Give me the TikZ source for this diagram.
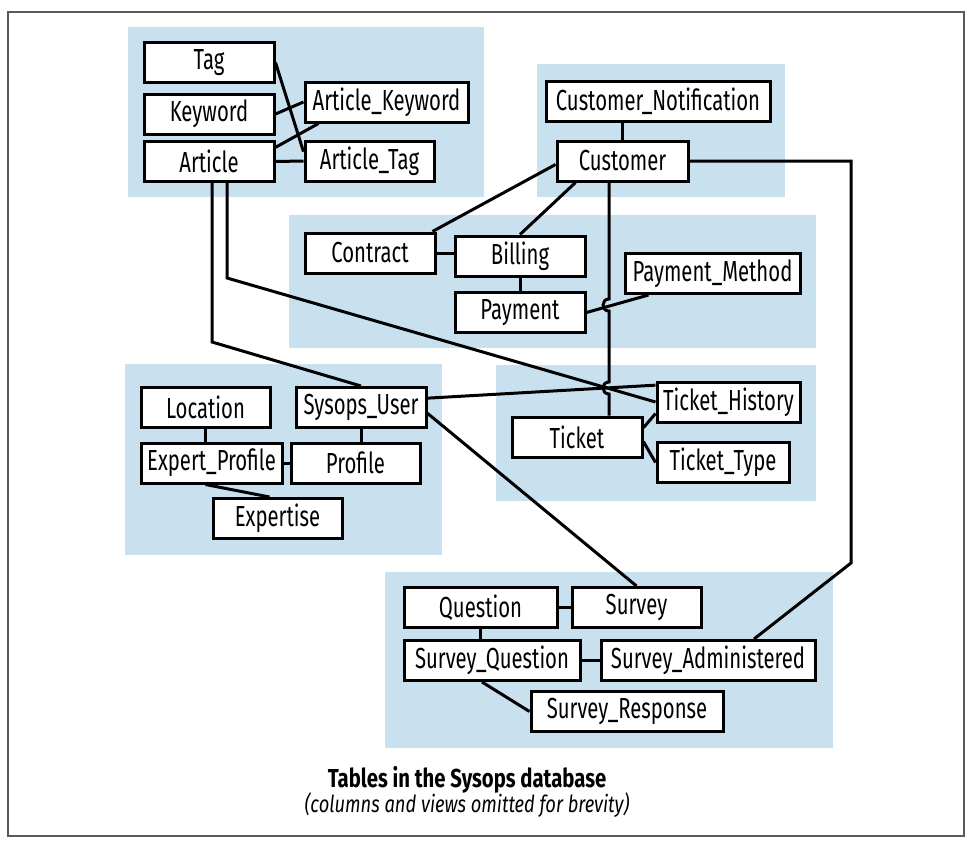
\documentclass[tikz,border=0pt]{standalone}
\usepackage{fontspec}
\setmainfont{Fira Sans}[FakeStretch=0.70]
\newfontfamily\capfont{Fira Sans}[FakeStretch=0.78]
\usepackage{tikz}
\usetikzlibrary{calc}
\definecolor{grp}{RGB}{201, 225, 239}
\definecolor{frm}{RGB}{90, 90, 90}

\begin{document}
\begin{tikzpicture}[x=1pt, y=-1pt,
  tbl/.style={draw, fill=white, line width=3, minimum height=40, inner sep=2,
    font=\fontsize{29}{32}\selectfont},
  link/.style={line width=3},
  grpbox/.style={fill=grp}]

  \useasboundingbox (0, 0) rectangle (971, 846);
  \draw[frm, line width=1.2] (8, 12) rectangle (964, 836);

  % groups
  \fill[grpbox] (128, 27) rectangle (484, 197);
  \fill[grpbox] (537, 64) rectangle (785, 197);
  \fill[grpbox] (289, 215) rectangle (816, 348);
  \fill[grpbox] (496, 365) rectangle (816, 501);
  \fill[grpbox] (125, 364) rectangle (442, 555);
  \fill[grpbox] (385, 572) rectangle (833, 748);

  % articles
  \node[tbl, minimum width=130] (tag) at (209, 62.5) {Tag};
  \node[tbl, minimum width=130] (keyword) at (209, 114) {Keyword};
  \node[tbl, minimum width=130] (article) at (209, 161.5) {Article};
  \node[tbl, minimum width=163] (artkey) at (386.5, 102) {Article\_Keyword};
  \node[tbl, minimum width=129] (arttag) at (369.5, 161) {Article\_Tag};

  % customers
  \node[tbl, minimum width=224] (custnote) at (658, 101.5) {Customer\_Notification};
  \node[tbl, minimum width=131] (customer) at (622.5, 161) {Customer};

  % billing
  \node[tbl, minimum width=130] (contract) at (370, 253) {Contract};
  \node[tbl, minimum width=130] (billing) at (520, 256) {Billing};
  \node[tbl, minimum width=130] (payment) at (520, 312.5) {Payment};
  \node[tbl, minimum width=175] (paymethod) at (712.5, 273.5) {Payment\_Method};

  % tickets
  \node[tbl, minimum width=130] (ticket) at (577, 437) {Ticket};
  \node[tbl, minimum width=143] (tickhist) at (728.5, 402) {Ticket\_History};
  \node[tbl, minimum width=132] (ticktype) at (723, 462.5) {Ticket\_Type};

  % users
  \node[tbl, minimum width=129] (location) at (205.5, 407.5) {Location};
  \node[tbl, minimum width=130] (sysuser) at (361, 407.5) {Sysops\_User};
  \node[tbl, minimum width=141] (expprof) at (211.5, 463) {Expert\_Profile};
  \node[tbl, minimum width=129] (profile) at (355.5, 463) {Profile};
  \node[tbl, minimum width=129] (expertise) at (277.5, 518.5) {Expertise};

  % surveys
  \node[tbl, minimum width=153] (question) at (480.5, 607.5) {Question};
  \node[tbl, minimum width=129] (survey) at (636.5, 607.5) {Survey};
  \node[tbl, minimum width=176] (survquest) at (492, 660.5) {Survey\_Question};
  \node[tbl, minimum width=214] (survadmin) at (708, 660.5) {Survey\_Administered};
  \node[tbl, minimum width=192] (survresp) at (627, 711.5) {Survey\_Response};

  % caption
  \node[font=\capfont\fontsize{26}{30}\selectfont\bfseries] (title) at (467, 780) {Tables in the Sysops database};
  \node[font=\capfont\fontsize{23.5}{26}\selectfont\itshape] (subtitle) at (467, 805) {(columns and views omitted for brevity)};

  % article links
  \draw[link] (tag.east) -- (arttag.172);
  \draw[link] (keyword.east) -- (artkey.west);
  \draw[link] (article.12) -- ($(artkey.south west)+(15, 0)$);
  \draw[link] (article.east) -- (arttag.west);
  \coordinate (a1) at (212, 342);
  \coordinate (a2) at (227, 278);
  \draw[link] (article.south -| a1) -- (a1) -- (sysuser.north);
  \draw[link] (article.south -| a2) -- (a2) -- (tickhist.west);

  % customer links
  \draw[link] (customer.north) -- (customer.north |- custnote.south);
  \draw[link] (customer.183) -- (contract.19);
  \draw[link] ($(customer.south)+(-47, 0)$) -- (billing.north);
  \draw[link] (contract.east) -- (contract.east -| billing.west);
  \draw[link] (billing.south) -- (payment.north);
  \draw[link] (payment.east) -- ($(paymethod.south west)+(25, 0)$);
  \coordinate (cv) at ($(customer.south)+(-13.5, 0)$);
  \coordinate (hop1) at (609, 305);
  \coordinate (hop2) at (609, 388);
  \draw[link] (cv) -- ($(hop1)+(0, -6)$) to[out=180, in=180, looseness=1.7] ($(hop1)+(0, 6)$)
    -- ($(hop2)+(0, -6)$) to[out=180, in=180, looseness=1.7] ($(hop2)+(0, 6)$)
    -- (cv |- ticket.north);
  \coordinate (r1) at (851, 563);
  \draw[link] (customer.east) -- (customer.east -| r1) -- (r1) -- ($(survadmin.north)+(46, 0)$);

  % ticket links
  \draw[link] (ticket.8) -- (tickhist.189);
  \draw[link] (ticket.-4) -- (ticktype.west);

  % user links
  \draw[link] (sysuser.8) -- (tickhist.167);
  \draw[link] (sysuser.-5) -- (survey.north);
  \draw[link] (location.south) -- (location.south |- expprof.north);
  \draw[link] (sysuser.south) -- (sysuser.south |- profile.north);
  \draw[link] (expprof.east) -- (profile.west);
  \draw[link] ($(expprof.south)+(-6, 0)$) -- ($(expertise.north)+(-8, 0)$);

  % survey links
  \draw[link] (question.east) -- (survey.west);
  \draw[link] (question.south) -- (question.south |- survquest.north);
  \draw[link] (survquest.east) -- (survadmin.west);
  \draw[link] ($(survquest.south)+(-10, 0)$) -- (survresp.west);

\end{tikzpicture}
\end{document}
